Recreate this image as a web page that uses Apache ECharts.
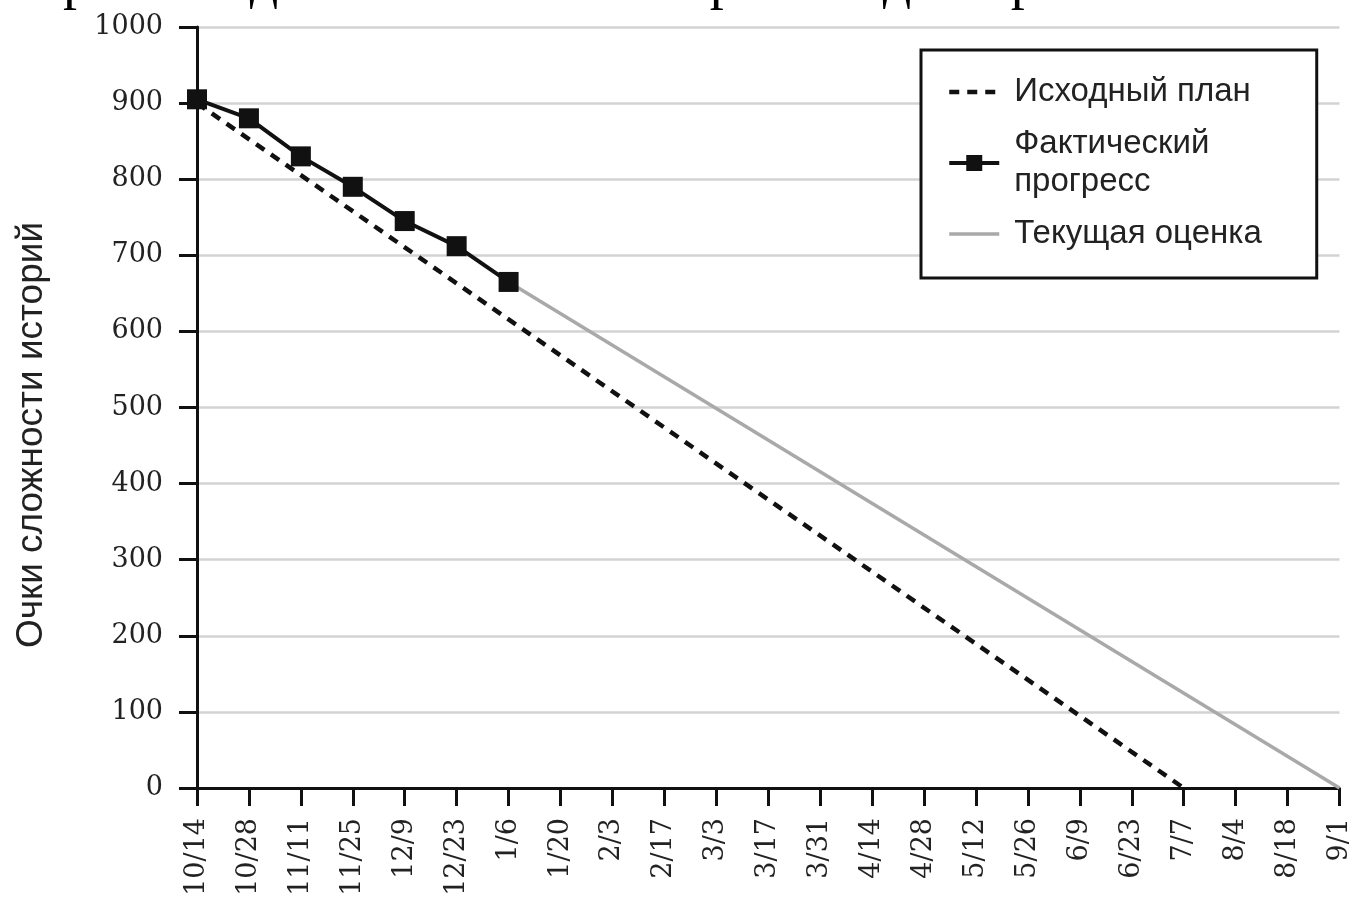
<!DOCTYPE html>
<html>
<head>
<meta charset="utf-8">
<title>Прогноз даты релиза</title>
<script src="https://cdn.jsdelivr.net/npm/echarts@6/dist/echarts.min.js"></script>
<style>
  html, body { margin: 0; padding: 0; background: #fff; }
  #chart { width: 1353px; height: 902px; }
</style>
</head>
<body>
<div id="chart"></div>
<script>
// Iteration dates on the horizontal axis
const dates = ['10/14', '10/28', '11/11', '11/25', '12/9', '12/23', '1/6', '1/20', '2/3', '2/17',
  '3/3', '3/17', '3/31', '4/14', '4/28', '5/12', '5/26', '6/9', '6/23', '7/7', '8/4', '8/18', '9/1'];

// Story points remaining, measured at each iteration so far
const actualProgress = [905, 880, 830, 790, 745, 712, 665];

// Original plan: straight burn-down from the start to the planned release
const originalPlan = [['10/14', 900], ['7/7', 0]];

// Current estimate: from the latest measurement to the projected release
const currentEstimate = [['1/6', 665], ['9/1', 0]];

const yTicks = [0, 100, 200, 300, 400, 500, 600, 700, 800, 900, 1000];

const seriesNames = {
  plan: 'Исходный план',
  actual: 'Фактический\nпрогресс',
  estimate: 'Текущая оценка'
};

const headingLine = 'прогресс на данный момент и прогноз даты релиза.';
const yAxisTitle = 'Очки сложности историй';

const chart = echarts.init(document.getElementById('chart'), null, { renderer: 'canvas' });

const serifLabel = {
  fontFamily: '"DejaVu Serif", "Liberation Serif", serif',
  fontSize: 27,
  color: '#222'
};

const planLine = { color: '#111', width: 4.5, type: [10, 8] };
const actualLine = { color: '#111', width: 4 };
const estimateLine = { color: '#a9a9a9', width: 3.5 };

// Legend entries for the plain lines show only the stroke, no marker
const hiddenMarker = { opacity: 0 };

chart.setOption({
  animation: false,
  backgroundColor: '#fff',
  grid: { left: 197, right: 13, top: 27, bottom: 114, containLabel: false },
  graphic: [
    {
      type: 'text',
      left: -46,
      top: -45,
      style: {
        text: headingLine,
        font: '56px "Liberation Serif", serif',
        fill: '#000'
      }
    },
    {
      type: 'text',
      x: 32,
      y: 435,
      rotation: Math.PI / 2,
      style: {
        text: yAxisTitle,
        font: '37px "Liberation Sans", Arial, sans-serif',
        fill: '#222',
        align: 'center',
        verticalAlign: 'middle'
      }
    }
  ],
  legend: {
    orient: 'vertical',
    left: 921,
    top: 50,
    padding: [23, 55, 25, 26],
    itemWidth: 50,
    itemHeight: 20,
    itemGap: 14,
    backgroundColor: '#fff',
    borderColor: '#111',
    borderWidth: 3,
    borderRadius: 0,
    textStyle: {
      fontFamily: '"Liberation Sans", Arial, sans-serif',
      fontSize: 33,
      lineHeight: 38,
      color: '#222',
      padding: [0, 0, 0, 10]
    },
    data: [
      { name: seriesNames.plan, itemStyle: hiddenMarker, lineStyle: planLine },
      { name: seriesNames.actual, lineStyle: actualLine },
      { name: seriesNames.estimate, itemStyle: hiddenMarker, lineStyle: estimateLine }
    ]
  },
  xAxis: {
    type: 'category',
    data: dates,
    boundaryGap: false,
    axisLine: { show: true, lineStyle: { color: '#111', width: 3 } },
    axisTick: { show: true, length: 18, interval: 0, lineStyle: { color: '#111', width: 3 } },
    axisLabel: Object.assign({ interval: 0, rotate: 90, margin: 30 }, serifLabel),
    splitLine: { show: false }
  },
  yAxis: {
    type: 'value',
    min: 0,
    max: 1000,
    interval: 100,
    axisLine: { show: true, lineStyle: { color: '#111', width: 3 } },
    axisTick: { show: true, length: 18, lineStyle: { color: '#111', width: 3 } },
    axisLabel: Object.assign({
      margin: 34,
      formatter: v => (yTicks.indexOf(v) >= 0 ? String(v) : '')
    }, serifLabel),
    splitLine: { show: true, lineStyle: { color: '#d3d3d3', width: 2.5 } }
  },
  series: [
    {
      name: seriesNames.plan,
      type: 'line',
      data: originalPlan,
      symbol: 'none',
      z: 2,
      lineStyle: planLine,
      itemStyle: { color: '#111' }
    },
    {
      name: seriesNames.estimate,
      type: 'line',
      data: currentEstimate,
      symbol: 'none',
      z: 3,
      lineStyle: estimateLine,
      itemStyle: { color: '#a9a9a9' }
    },
    {
      name: seriesNames.actual,
      type: 'line',
      data: actualProgress,
      symbol: 'rect',
      symbolSize: 20,
      z: 4,
      lineStyle: actualLine,
      itemStyle: { color: '#111', borderColor: '#111', borderWidth: 0 }
    }
  ]
});
</script>
</body>
</html>
